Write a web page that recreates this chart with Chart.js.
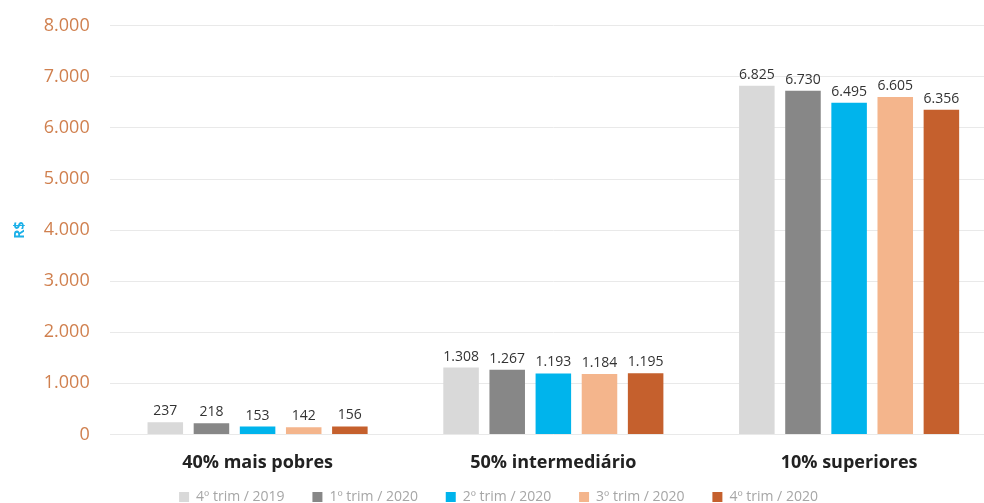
<!DOCTYPE html>
<html>
<head>
<meta charset="utf-8">
<script src="https://cdn.jsdelivr.net/npm/chart.js@4/dist/chart.umd.min.js"></script>
<style>
  html, body { margin: 0; padding: 0; background: #fff; overflow: hidden; }
  #wrap { width: 1000px; height: 514px; }
</style>
</head>
<body>
<div id="wrap"><canvas id="renda_chart"></canvas></div>
<script>
const categories = ['40% mais pobres', '50% intermediário', '10% superiores'];
const periods = ['4º trim / 2019', '1º trim / 2020', '2º trim / 2020', '3º trim / 2020', '4º trim / 2020'];
const q4_2019 = [237, 1308, 6825];
const q1_2020 = [218, 1267, 6730];
const q2_2020 = [153, 1193, 6495];
const q3_2020 = [142, 1184, 6605];
const q4_2020 = [156, 1195, 6356];
const colors = ['#D9D9D9', '#878787', '#00B4EC', '#F4B58C', '#C5602D'];

const fmt = v => v.toLocaleString('de-DE');
const gap = '\u00A0'.repeat(6); // espaço extra entre itens da legenda

// rótulos de valor em cima das barras
const valueLabels = {
    id: 'valueLabels',
    afterDatasetsDraw(chart) {
        const ctx = chart.ctx;
        ctx.save();
        ctx.font = '14px "Open Sans"';
        ctx.fillStyle = '#333';
        ctx.textAlign = 'center';
        ctx.textBaseline = 'bottom';
        chart.data.datasets.forEach((ds, i) => {
            chart.getDatasetMeta(i).data.forEach((bar, j) => {
                ctx.fillText(fmt(ds.data[j]), bar.x, bar.y - 4);
            });
        });
        ctx.restore();
    }
};

const series = [q4_2019, q1_2020, q2_2020, q3_2020, q4_2020];
const ctx = document.getElementById('renda_chart').getContext('2d');
new Chart(ctx, {
    type: 'bar',
    data: {
        labels: categories,
        datasets: series.map((s, i) => ({
            label: periods[i],
            data: s,
            backgroundColor: colors[i],
            categoryPercentage: 0.78,
            barPercentage: 0.77
        }))
    },
    options: {
        responsive: true,
        maintainAspectRatio: false,
        animation: false,
        layout: { padding: { top: 0, right: 3, left: 0, bottom: 0 } },
        plugins: {
            legend: {
                position: 'bottom',
                labels: {
                    boxWidth: 10,
                    boxHeight: 10,
                    padding: 6,
                    color: '#A6A6A6',
                    font: { family: 'Open Sans', size: 14 },
                    generateLabels: chart => Chart.defaults.plugins.legend.labels.generateLabels(chart)
                        .map((item, i, all) => Object.assign(item, { text: i < all.length - 1 ? item.text + gap : item.text }))
                }
            },
            tooltip: { enabled: false }
        },
        scales: {
            x: {
                grid: { display: false },
                border: { display: false },
                ticks: {
                    color: '#222',
                    padding: 10,
                    font: { family: 'Open Sans', size: 18, weight: 'bold' }
                }
            },
            y: {
                min: 0,
                max: 8000,
                border: { display: false },
                grid: { color: '#E9E9E9', drawTicks: false },
                ticks: {
                    stepSize: 1000,
                    padding: 20,
                    color: '#D0804F',
                    font: { family: 'Open Sans', size: 18 },
                    callback: v => fmt(v)
                },
                title: {
                    display: true,
                    text: 'R$',
                    color: '#1CB0E8',
                    padding: { top: 12, bottom: -5 },
                    font: { family: 'Open Sans', size: 14, weight: 'bold' }
                },
                afterFit: scale => { scale.paddingTop -= 5; }
            }
        }
    },
    plugins: [valueLabels]
});
</script>
</body>
</html>
